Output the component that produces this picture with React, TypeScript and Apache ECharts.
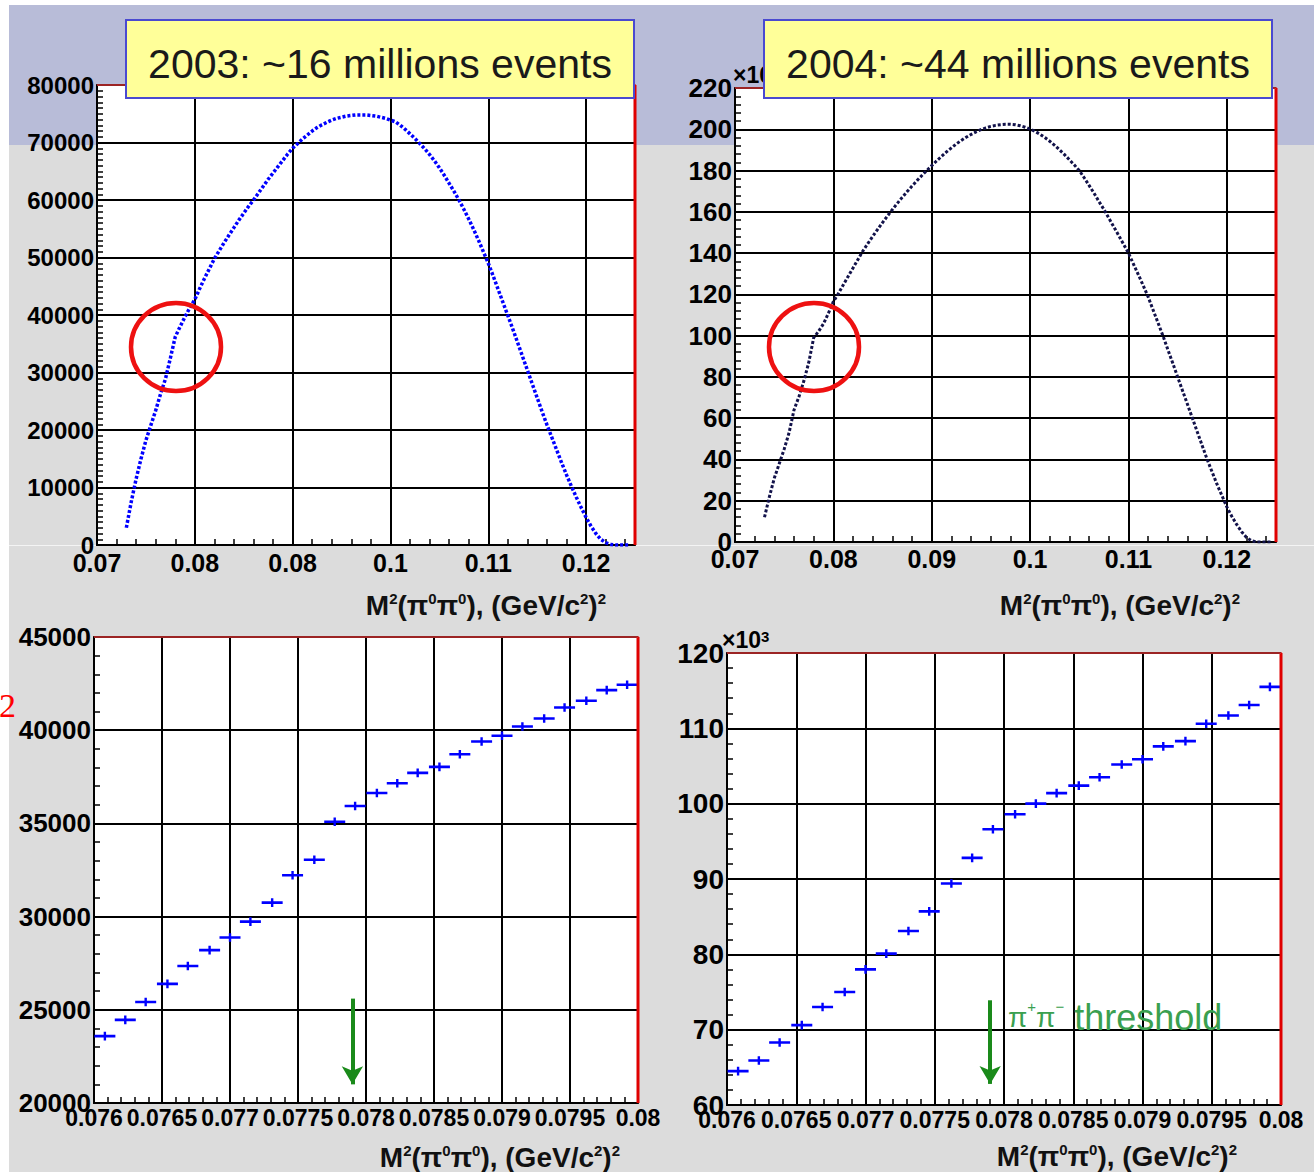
import React, { useEffect, useRef } from "react";
import * as echarts from "echarts";

// ---------- data ----------
const topX = [
  0.073, 0.0735, 0.074, 0.0745, 0.075, 0.0755, 0.076, 0.0765, 0.077, 0.0775,
  0.078, 0.0785, 0.079, 0.0795, 0.08, 0.0805, 0.081, 0.0815, 0.082, 0.0825,
  0.083, 0.0835, 0.084, 0.0845, 0.085, 0.0855, 0.086, 0.0865, 0.087, 0.0875,
  0.088, 0.0885, 0.089, 0.0895, 0.09, 0.0905, 0.091, 0.0915, 0.092, 0.0925,
  0.093, 0.0935, 0.094, 0.0945, 0.095, 0.0955, 0.096, 0.0965, 0.097, 0.0975,
  0.098, 0.0985, 0.099, 0.0995, 0.1, 0.1005, 0.101, 0.1015, 0.102, 0.1025,
  0.103, 0.1035, 0.104, 0.1045, 0.105, 0.1055, 0.106, 0.1065, 0.107, 0.1075,
  0.108, 0.1085, 0.109, 0.1095, 0.11, 0.1105, 0.111, 0.1115, 0.112, 0.1125,
  0.113, 0.1135, 0.114, 0.1145, 0.115, 0.1155, 0.116, 0.1165, 0.117, 0.1175,
  0.118, 0.1185, 0.119, 0.1195, 0.12, 0.1205, 0.121, 0.1215, 0.122, 0.1225,
  0.123, 0.1235, 0.124, 0.1245,
];

// 2003 events per bin
const events2003 = [
  3000, 7500, 11500, 15000, 18200, 20800, 23400, 26300, 28900, 32500,
  36200, 38000, 39700, 41300, 42700, 44600, 46400, 48100, 49800, 51200,
  52600, 53900, 55200, 56500, 57700, 58900, 60000, 61200, 62400, 63600,
  64700, 65800, 66900, 68000, 69000, 69800, 70600, 71300, 72000, 72600,
  73100, 73500, 73900, 74200, 74400, 74600, 74700, 74800, 74800, 74800,
  74700, 74600, 74400, 74200, 73900, 73600, 73000, 72300, 71500, 70700,
  69800, 68900, 67900, 66800, 65600, 64300, 62900, 61500, 60000, 58400,
  56700, 54900, 53000, 51000, 49000, 46800, 44500, 42200, 39900, 37600,
  35200, 32800, 30400, 28000, 25600, 23200, 20900, 18700, 16500, 14300,
  12200, 10200, 8300, 6500, 4800, 3300, 2000, 1000, 400, 100,
  0, 0, 0, 0,
];

// 2004 events per bin, in units of 10^3
const events2004k = [
  12, 22, 31, 38, 45, 53, 64, 70.4, 78, 87,
  99, 102.1, 105.8, 110.9, 116.5, 120.3, 124.5, 128.7, 132.8, 136.9,
  141, 144.6, 148.1, 151.5, 154.8, 158, 161.1, 164.1, 167, 169.8,
  172.5, 175.1, 177.6, 180, 182.4, 184.7, 186.9, 189, 191, 192.9,
  194.6, 196.1, 197.5, 198.7, 199.8, 200.7, 201.4, 201.9, 202.2, 202.4,
  202.4, 202.2, 201.7, 201, 200.1, 199, 197.6, 196, 194.2, 192.2,
  190, 187.7, 185.2, 182.7, 180, 176.5, 172.8, 169, 165, 161.2,
  157, 152.8, 148.6, 144.3, 140, 134.8, 129.6, 124.3, 118.8, 112.5,
  106.3, 100, 93.3, 86.7, 80, 73.3, 66.7, 60, 53.3, 46.7,
  40, 34, 28, 22.5, 17, 12.5, 8.5, 5, 2.2, 0.6,
  0, 0, 0, 0,
];

// zoomed bins (centres)
const zoomX = [
  0.07608, 0.07623, 0.07638, 0.07654, 0.07669, 0.07685, 0.077, 0.07715, 0.07731, 0.07746,
  0.07762, 0.07777, 0.07792, 0.07808, 0.07823, 0.07838, 0.07854, 0.07869, 0.07885, 0.079,
  0.07915, 0.07931, 0.07946, 0.07962, 0.07977, 0.07992,
];
const zoom2003 = [
  23590, 24460, 25420, 26390, 27350, 28200, 28880, 29730, 30750, 32220,
  33050, 35090, 35930, 36630, 37150, 37710, 38030, 38710, 39390, 39700,
  40200, 40630, 41220, 41580, 42150, 42440,
];
const zoom2004k = [
  64.5, 65.9, 68.3, 70.6, 73.0, 75.0, 78.0, 80.1, 83.1, 85.7,
  89.4, 92.8, 96.6, 98.6, 100.0, 101.4, 102.4, 103.5, 105.2, 105.9,
  107.6, 108.3, 110.6, 111.7, 113.1, 115.5,
];

const thresholdX = 0.0779;
const arrow2003 = [25600, 21000];
const arrow2004k = [73.9, 62.8];

// tick labels
const tlXLabels = ["0.07", "0.08", "0.08", "0.1", "0.11", "0.12"];
const trXLabels = ["0.07", "0.08", "0.09", "0.1", "0.11", "0.12"];
const zoomXLabels = ["0.076", "0.0765", "0.077", "0.0775", "0.078", "0.0785", "0.079", "0.0795", "0.08"];
const tlYLabels = ["0", "10000", "20000", "30000", "40000", "50000", "60000", "70000", "80000"];
const trYLabels = ["0", "20", "40", "60", "80", "100", "120", "140", "160", "180", "200", "220"];
const blYLabels = ["20000", "25000", "30000", "35000", "40000", "45000"];
const brYLabels = ["60", "70", "80", "90", "100", "110", "120"];

const titles = ["2003: ~16 millions events", "2004: ~44 millions events"];
// M²(π⁰π⁰), (GeV/c²)² as rich text
const axisTitleRich = "{n|M}{s|2}{n|(\u03C0}{s|0}{n|\u03C0}{s|0}{n|), (GeV/c}{s|2}{n|)}{s|2}";
const thresholdRich = "{p|\u03C0}{s|+}{p|\u03C0}{s|\u2212}{t| threshold}";

// ---------- layout ----------
const GRIDS = [
  { left: 97, top: 85, width: 538, height: 460 },
  { left: 735, top: 88, width: 541, height: 454 },
  { left: 94, top: 637, width: 544, height: 466 },
  { left: 727, top: 653, width: 554, height: 452 },
];
const FONT = '"Liberation Sans", Arial, sans-serif';

function makeX(gi: number, min: number, max: number, interval: number, labels: string[], fs: number, margin: number) {
  return {
    type: "value",
    gridIndex: gi,
    min,
    max,
    interval,
    axisLine: { show: true, onZero: false, lineStyle: { color: "#000", width: 2 } },
    axisTick: { show: true, inside: true, length: 12, lineStyle: { color: "#000", width: 2 } },
    minorTick: { show: true, splitNumber: 5, length: 6, lineStyle: { color: "#000", width: 1.5 } },
    splitLine: { show: true, lineStyle: { color: "#000", width: 2 } },
    axisLabel: {
      show: true,
      color: "#000",
      fontWeight: "bold",
      fontFamily: FONT,
      fontSize: fs,
      margin,
      showMinLabel: true,
      hideOverlap: false,
      formatter: (v: number) => {
        const k = (v - min) / interval;
        const r = Math.round(k);
        if (Math.abs(k - r) > 0.01) return "";
        return labels[r] ?? "";
      },
    },
  };
}

function makeY(gi: number, min: number, max: number, interval: number, labels: string[], fs: number, minorSplit: number) {
  return {
    type: "value",
    gridIndex: gi,
    min,
    max,
    interval,
    axisLine: { show: true, onZero: false, lineStyle: { color: "#000", width: 2 } },
    axisTick: { show: true, inside: true, length: 12, lineStyle: { color: "#000", width: 2 } },
    minorTick: { show: true, splitNumber: minorSplit, length: 6, lineStyle: { color: "#000", width: 1.5 } },
    splitLine: { show: true, lineStyle: { color: "#000", width: 2 } },
    axisLabel: {
      show: true,
      color: "#000",
      fontWeight: "bold",
      fontFamily: FONT,
      fontSize: fs,
      margin: 3,
      showMinLabel: true,
      showMaxLabel: true,
      formatter: (v: number) => labels[Math.round((v - min) / interval)] ?? "",
    },
  };
}

const PLUS = "path://M0,3 L21,3 L21,5.6 L0,5.6 Z M9.3,0 L11.7,0 L11.7,8.6 L9.3,8.6 Z";

export default function App() {
  const ref = useRef<HTMLDivElement>(null);

  useEffect(() => {
    if (!ref.current) return;
    const chart = echarts.init(ref.current, null, { renderer: "svg" });

    const arrowLine = (y: number[]) => ({
      silent: true,
      symbol: ["none", "arrow"],
      symbolSize: [16, 18],
      label: { show: false },
      lineStyle: { color: "#1a8a1a", width: 4, type: "solid" },
      data: [[{ coord: [thresholdX, y[0]] }, { coord: [thresholdX, y[1]] }]],
    });

    const gfx: any[] = [];
    // red frame edges (top, right)
    GRIDS.forEach((g) => {
      gfx.push({
        type: "line",
        z: 50,
        shape: { x1: g.left + g.width, y1: g.top, x2: g.left + g.width, y2: g.top + g.height },
        style: { stroke: "#e00000", lineWidth: 3 },
      });
      gfx.push({
        type: "line",
        z: 50,
        shape: { x1: g.left, y1: g.top, x2: g.left + g.width, y2: g.top },
        style: { stroke: "#d03030", lineWidth: 1.5 },
      });
    });
    // x10^3 labels
    const expRich = {
      n: { fontSize: 23, fontWeight: "bold", fontFamily: FONT, fill: "#000", color: "#000" },
      s: { fontSize: 15, fontWeight: "bold", fontFamily: FONT, fill: "#000", color: "#000", verticalAlign: "top" },
    };
    gfx.push({
      type: "text", z: 60, x: 733, y: 75,
      style: { text: "{n|\u00D710}{s|3}", rich: expRich, textAlign: "left", align: "left", textVerticalAlign: "middle", verticalAlign: "middle" },
    });
    gfx.push({
      type: "text", z: 60, x: 722, y: 640,
      style: { text: "{n|\u00D710}{s|3}", rich: expRich, textAlign: "left", align: "left", textVerticalAlign: "middle", verticalAlign: "middle" },
    });
    // yellow boxes
    const boxes = [
      { x: 126, w: 508, cx: 380 },
      { x: 764, w: 508, cx: 1018 },
    ];
    boxes.forEach((b, i) => {
      gfx.push({
        type: "rect", z: 100,
        shape: { x: b.x, y: 20, width: b.w, height: 78 },
        style: { fill: "#ffff99", stroke: "#4a4ad0", lineWidth: 2 },
      });
      gfx.push({
        type: "text", z: 101, x: b.cx, y: 64,
        style: { text: titles[i], font: `41px ${FONT}`, fill: "#1a1a1a", textAlign: "center", align: "center", textVerticalAlign: "middle", verticalAlign: "middle" },
      });
    });
    // axis titles
    const titleRich = {
      n: { fontSize: 28, fontWeight: "bold", fontFamily: FONT, fill: "#111", color: "#111" },
      s: { fontSize: 15, fontWeight: "bold", fontFamily: FONT, fill: "#111", color: "#111", verticalAlign: "top" },
    };
    const at = [
      { x: 606, y: 605 },
      { x: 1240, y: 605 },
      { x: 620, y: 1157 },
      { x: 1237, y: 1156 },
    ];
    at.forEach((p) => {
      gfx.push({
        type: "text", z: 60, x: p.x, y: p.y,
        style: { text: axisTitleRich, rich: titleRich, textAlign: "right", align: "right", textVerticalAlign: "middle", verticalAlign: "middle" },
      });
    });
    // red circles
    gfx.push({ type: "ellipse", z: 80, shape: { cx: 176, cy: 347, rx: 45, ry: 44 }, style: { fill: "none", stroke: "#ee1111", lineWidth: 4.5 } });
    gfx.push({ type: "ellipse", z: 80, shape: { cx: 814, cy: 347, rx: 45, ry: 44 }, style: { fill: "none", stroke: "#ee1111", lineWidth: 4.5 } });
    // threshold text
    gfx.push({
      type: "text", z: 80, x: 1008, y: 1017,
      style: {
        text: thresholdRich,
        rich: {
          p: { fontSize: 28, fontFamily: FONT, fill: "#3aa050", color: "#3aa050" },
          s: { fontSize: 15, fontFamily: FONT, fill: "#3aa050", color: "#3aa050", verticalAlign: "top" },
          t: { fontSize: 36, fontFamily: FONT, fill: "#3aa050", color: "#3aa050" },
        },
        textAlign: "left", align: "left", textVerticalAlign: "middle", verticalAlign: "middle",
      },
    });
    // stray red page number
    gfx.push({
      type: "text", z: 80, x: -1, y: 705,
      style: { text: "2", font: '34px "Liberation Serif", serif', fill: "#ff0000", textAlign: "left", align: "left", textVerticalAlign: "middle", verticalAlign: "middle" },
    });

    const option: any = {
      animation: false,
      backgroundColor: "transparent",
      grid: GRIDS.map((g) => ({ ...g, show: true, backgroundColor: "#fff", borderColor: "#e00000", borderWidth: 1.5, containLabel: false })),
      xAxis: [
        makeX(0, 0.07, 0.125, 0.01, tlXLabels, 25, 5),
        makeX(1, 0.07, 0.125, 0.01, trXLabels, 25, 4),
        makeX(2, 0.076, 0.08, 0.0005, zoomXLabels, 23, 3),
        makeX(3, 0.076, 0.08, 0.0005, zoomXLabels, 23, 3),
      ],
      yAxis: [
        makeY(0, 0, 80000, 10000, tlYLabels, 24, 10),
        makeY(1, 0, 220, 20, trYLabels, 26, 5),
        makeY(2, 20000, 45000, 5000, blYLabels, 26, 5),
        makeY(3, 60, 120, 10, brYLabels, 28, 5),
      ],
      series: [
        {
          type: "line",
          xAxisIndex: 0,
          yAxisIndex: 0,
          showSymbol: false,
          data: topX.map((x, i) => [x, events2003[i]]),
          lineStyle: { color: "#0000ff", width: 3.5, type: [3, 2] },
          z: 5,
        },
        {
          type: "line",
          xAxisIndex: 1,
          yAxisIndex: 1,
          showSymbol: false,
          data: topX.map((x, i) => [x, events2004k[i]]),
          lineStyle: { color: "#12124a", width: 3, type: [3, 2] },
          z: 5,
        },
        {
          type: "scatter",
          xAxisIndex: 2,
          yAxisIndex: 2,
          symbol: PLUS,
          symbolSize: [21, 8.6],
          itemStyle: { color: "#0000ff", opacity: 1 },
          data: zoomX.map((x, i) => [x, zoom2003[i]]),
          markLine: arrowLine(arrow2003),
          z: 5,
        },
        {
          type: "scatter",
          xAxisIndex: 3,
          yAxisIndex: 3,
          symbol: PLUS,
          symbolSize: [21, 8.6],
          itemStyle: { color: "#0000ff", opacity: 1 },
          data: zoomX.map((x, i) => [x, zoom2004k[i]]),
          markLine: arrowLine(arrow2004k),
          z: 5,
        },
      ],
      graphic: { elements: gfx },
    };

    chart.setOption(option);
    return () => chart.dispose();
  }, []);

  return (
    <div style={{ position: "absolute", left: 0, top: 0, width: 1314, height: 1172, background: "#fff", overflow: "hidden" }}>
      <div style={{ position: "absolute", left: 9, top: 5, width: 1305, height: 140, background: "#b8bcd8" }} />
      <div style={{ position: "absolute", left: 9, top: 145, width: 1305, height: 1027, background: "#dcdcdc" }} />
      <div style={{ position: "absolute", left: 9, top: 545, width: 1305, height: 1, background: "#f4f4f4" }} />
      <div ref={ref} style={{ position: "absolute", left: 0, top: 0, width: 1314, height: 1172 }} />
    </div>
  );
}
